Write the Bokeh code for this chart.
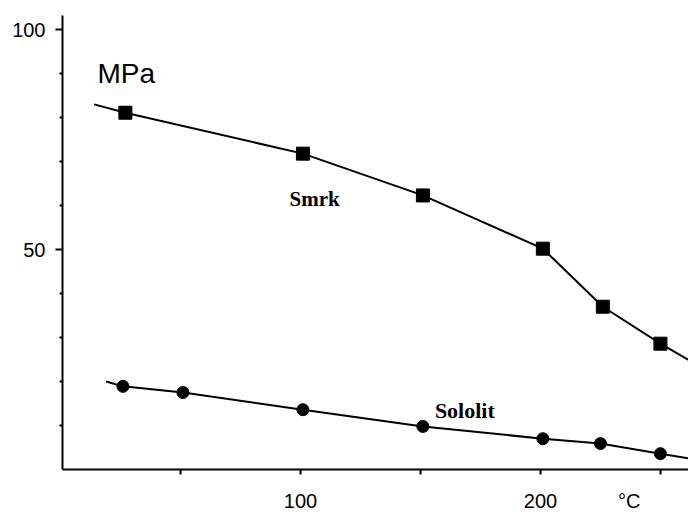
from bokeh.plotting import figure
from bokeh.models import Range1d, FixedTicker, Label
from bokeh.embed import file_html
from bokeh.resources import INLINE

# Data
smrk_x = [27, 101, 151, 201, 226, 250]
smrk_y = [81.1, 71.8, 62.3, 50.2, 37.0, 28.6]
smrk_line_x = [14, 27, 101, 151, 201, 226, 250, 262]
smrk_line_y = [83.0, 81.1, 71.8, 62.3, 50.2, 37.0, 28.6, 24.8]

sololit_x = [26, 51, 101, 151, 201, 225, 250]
sololit_y = [18.9, 17.5, 13.6, 9.8, 7.0, 5.9, 3.6]
sololit_line_x = [19, 26, 51, 101, 151, 201, 225, 250, 262]
sololit_line_y = [20.0, 18.9, 17.5, 13.6, 9.8, 7.0, 5.9, 3.6, 2.5]

x_label_ticks = [100, 200, 237]
x_label_texts = {100: "100", 200: "200", 237: "°C"}
x_tick_marks = [50, 100, 150, 200, 250]
y_major = [50, 100]
y_minor = [10, 20, 30, 40, 60, 70, 80, 90]

p = figure(width=688, height=514, output_backend="svg", toolbar_location=None,
           x_range=Range1d(0.8, 261.7), y_range=Range1d(0, 103.2),
           min_border_left=62, min_border_right=0, min_border_top=15, min_border_bottom=45)
p.outline_line_color = None
p.xgrid.visible = False
p.ygrid.visible = False
p.background_fill_color = "white"
p.border_fill_color = "white"

p.line(smrk_line_x, smrk_line_y, line_color="black", line_width=2)
p.scatter(smrk_x, smrk_y, marker="square", size=13, fill_color="black", line_color="black")
p.line(sololit_line_x, sololit_line_y, line_color="black", line_width=2)
p.scatter(sololit_x, sololit_y, marker="circle", size=12, fill_color="black", line_color="black")

for ax in (p.xaxis[0], p.yaxis[0]):
    ax.axis_line_color = "black"
    ax.axis_line_width = 2
    ax.major_tick_line_color = "black"
    ax.minor_tick_line_color = "black"
    ax.major_tick_line_width = 2
    ax.minor_tick_line_width = 2
    ax.major_label_text_font = "Liberation Sans"
    ax.major_label_text_font_size = "20px"
    ax.major_label_text_color = "black"

p.xaxis[0].ticker = FixedTicker(ticks=x_label_ticks, minor_ticks=x_tick_marks)
p.xaxis[0].major_label_overrides = x_label_texts
p.xaxis[0].major_tick_in = 0
p.xaxis[0].major_tick_out = 0
p.xaxis[0].minor_tick_in = 0
p.xaxis[0].minor_tick_out = 5
p.xaxis[0].major_label_standoff = 15

p.yaxis[0].ticker = FixedTicker(ticks=y_major, minor_ticks=y_minor)
p.yaxis[0].major_tick_in = 0
p.yaxis[0].major_tick_out = 7
p.yaxis[0].minor_tick_in = 0
p.yaxis[0].minor_tick_out = 3
p.yaxis[0].major_label_standoff = 10

p.add_layout(Label(x=15.4, y=90, text="MPa", text_align="left", text_baseline="alphabetic",
                   text_font="Liberation Sans", text_font_size="28px", text_color="black"))
p.add_layout(Label(x=95.4, y=61.6, text="Smrk", text_align="left", text_baseline="alphabetic",
                   text_font="Liberation Serif", text_font_style="bold",
                   text_font_size="21px", text_color="black"))
p.add_layout(Label(x=156, y=13.4, text="Sololit", text_align="left", text_baseline="alphabetic",
                   text_font="Liberation Serif", text_font_style="bold",
                   text_font_size="22px", text_color="black"))

open("out.html", "w").write(file_html(p, INLINE))
